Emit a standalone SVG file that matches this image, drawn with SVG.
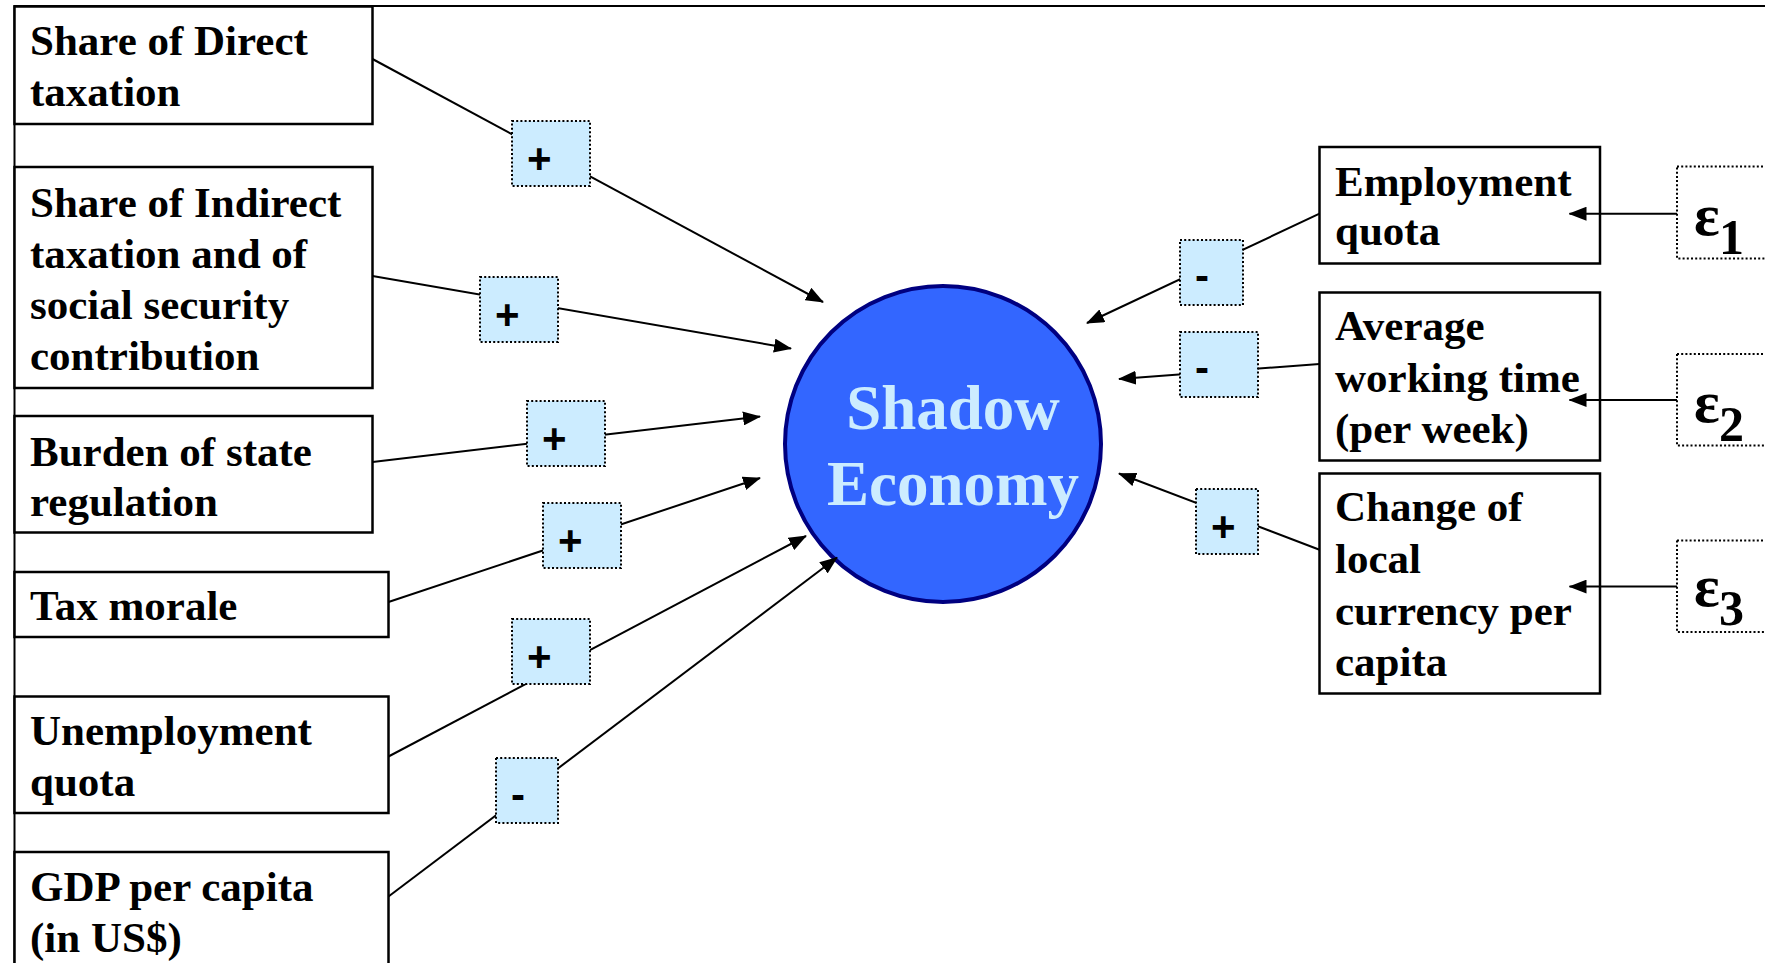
<svg xmlns="http://www.w3.org/2000/svg" width="1765" height="963" viewBox="0 0 1765 963">
<style>
.box{fill:#fff;stroke:#000;stroke-width:2.5}
.lbl{font-family:"Liberation Serif","Times New Roman",serif;font-weight:bold;font-size:43px;fill:#000}
.sign{fill:#CCECFF;stroke:#000;stroke-width:2;stroke-dasharray:2 2.2}
.signt{font-family:"Liberation Sans",Arial,sans-serif;font-weight:bold;font-size:42px;fill:#000}
.eps{fill:#fff;stroke:#000;stroke-width:2;stroke-dasharray:2 2.2}
.epst{font-family:"Liberation Serif","Times New Roman",serif;font-weight:bold;fill:#000}
.con{fill:none;stroke:#000;stroke-width:2}
.arr{marker-end:url(#ah)}
</style>
<defs>
<marker id="ah" markerUnits="userSpaceOnUse" markerWidth="18" markerHeight="14" viewBox="0 0 18 14" refX="17" refY="7" orient="auto">
<path d="M0,0 L18,7 L0,14 z" fill="#000"/>
</marker>
</defs>
<rect width="1765" height="963" fill="#fff"/>
<path id="frame" d="M14.5,963 V6 H1765" fill="none" stroke="#000" stroke-width="2"/>

<g id="n-direct"><rect class="box" x="14.5" y="6.5" width="358" height="117.5"/>
<text class="lbl" x="30" y="55">Share of Direct</text><text class="lbl" x="30" y="106">taxation</text></g>
<g id="n-indirect"><rect class="box" x="14.5" y="167" width="358" height="221"/>
<text class="lbl" x="30" y="216.5">Share of Indirect</text><text class="lbl" x="30" y="268">taxation and of</text><text class="lbl" x="30" y="319">social security</text><text class="lbl" x="30" y="370">contribution</text></g>
<g id="n-burden"><rect class="box" x="14.5" y="416" width="358" height="116.5"/>
<text class="lbl" x="30" y="465.5">Burden of state</text><text class="lbl" x="30" y="516">regulation</text></g>
<g id="n-taxmorale"><rect class="box" x="14.5" y="572" width="374" height="65"/>
<text class="lbl" x="30" y="620">Tax morale</text></g>
<g id="n-unemp"><rect class="box" x="14.5" y="696.5" width="374" height="116.5"/>
<text class="lbl" x="30" y="745">Unemployment</text><text class="lbl" x="30" y="796">quota</text></g>
<g id="n-gdp"><rect class="box" x="14.5" y="852" width="374" height="140"/>
<text class="lbl" x="30" y="901">GDP per capita</text><text class="lbl" x="30" y="952">(in US$)</text></g>

<g id="n-shadow"><circle cx="943" cy="444" r="158" fill="#3366FF" stroke="#000080" stroke-width="4"/>
<text x="953" y="429" text-anchor="middle" font-family="'Liberation Serif','Times New Roman',serif" font-weight="bold" font-size="63" fill="#CCECFF">Shadow</text>
<text x="953" y="505" text-anchor="middle" font-family="'Liberation Serif','Times New Roman',serif" font-weight="bold" font-size="63" fill="#CCECFF">Economy</text></g>

<g id="n-employ"><rect class="box" x="1319.5" y="147" width="280.5" height="116.5"/>
<text class="lbl" x="1335" y="195.5">Employment</text><text class="lbl" x="1335" y="245">quota</text></g>
<g id="n-avg"><rect class="box" x="1319.5" y="292.5" width="280.5" height="168"/>
<text class="lbl" x="1335" y="340">Average</text><text class="lbl" x="1335" y="392">working time</text><text class="lbl" x="1335" y="442.5">(per week)</text></g>
<g id="n-change"><rect class="box" x="1319.5" y="473.5" width="280.5" height="220"/>
<text class="lbl" x="1335" y="521">Change of</text><text class="lbl" x="1335" y="572.5">local</text><text class="lbl" x="1335" y="624.5">currency per</text><text class="lbl" x="1335" y="675.5">capita</text></g>

<g id="n-eps1"><rect class="eps" x="1677" y="166.5" width="130" height="92"/>
<text class="epst" x="1694" y="235" font-size="60">ε</text><text class="epst" x="1719" y="254" font-size="50">1</text></g>
<g id="n-eps2"><rect class="eps" x="1677" y="354" width="130" height="91.5"/>
<text class="epst" x="1694" y="422" font-size="60">ε</text><text class="epst" x="1719" y="441" font-size="50">2</text></g>
<g id="n-eps3"><rect class="eps" x="1677" y="540.5" width="130" height="91.5"/>
<text class="epst" x="1694" y="606" font-size="60">ε</text><text class="epst" x="1719" y="625" font-size="50">3</text></g>

<g id="connectors">
<line class="con arr" x1="372.5" y1="59" x2="823" y2="302"/>
<line class="con arr" x1="372.5" y1="276" x2="791" y2="348.5"/>
<line class="con arr" x1="372.5" y1="462" x2="760" y2="416.5"/>
<line class="con arr" x1="388.5" y1="602" x2="760" y2="478"/>
<line class="con arr" x1="388.5" y1="756.5" x2="806" y2="536"/>
<line class="con arr" x1="388.5" y1="896.5" x2="837" y2="557.5"/>
<line class="con arr" x1="1319.5" y1="213.7" x2="1087" y2="323"/>
<line class="con arr" x1="1319.5" y1="364" x2="1119" y2="379"/>
<line class="con arr" x1="1319.5" y1="549.7" x2="1119" y2="473.5"/>
<line class="con arr" x1="1677" y1="213.7" x2="1569.5" y2="213.7"/>
<line class="con arr" x1="1677" y1="400" x2="1569.5" y2="400"/>
<line class="con arr" x1="1677" y1="586.6" x2="1569.5" y2="586.6"/>
</g>

<g id="s1"><rect class="sign" x="512" y="121" width="78" height="65"/><text class="signt" x="527" y="173">+</text></g>
<g id="s2"><rect class="sign" x="480" y="277" width="78" height="65"/><text class="signt" x="495" y="329">+</text></g>
<g id="s3"><rect class="sign" x="527" y="401" width="78" height="65"/><text class="signt" x="542" y="453">+</text></g>
<g id="s4"><rect class="sign" x="543" y="503" width="78" height="65"/><text class="signt" x="558" y="555">+</text></g>
<g id="s5"><rect class="sign" x="512" y="619" width="78" height="65"/><text class="signt" x="527" y="671">+</text></g>
<g id="s6"><rect class="sign" x="496" y="758" width="62" height="65"/><text class="signt" x="511" y="809">-</text></g>
<g id="s7"><rect class="sign" x="1180" y="240" width="63" height="65"/><text class="signt" x="1195" y="290">-</text></g>
<g id="s8"><rect class="sign" x="1180" y="332" width="78" height="65"/><text class="signt" x="1195" y="382">-</text></g>
<g id="s9"><rect class="sign" x="1196" y="489" width="62" height="65"/><text class="signt" x="1211" y="541">+</text></g>
</svg>
